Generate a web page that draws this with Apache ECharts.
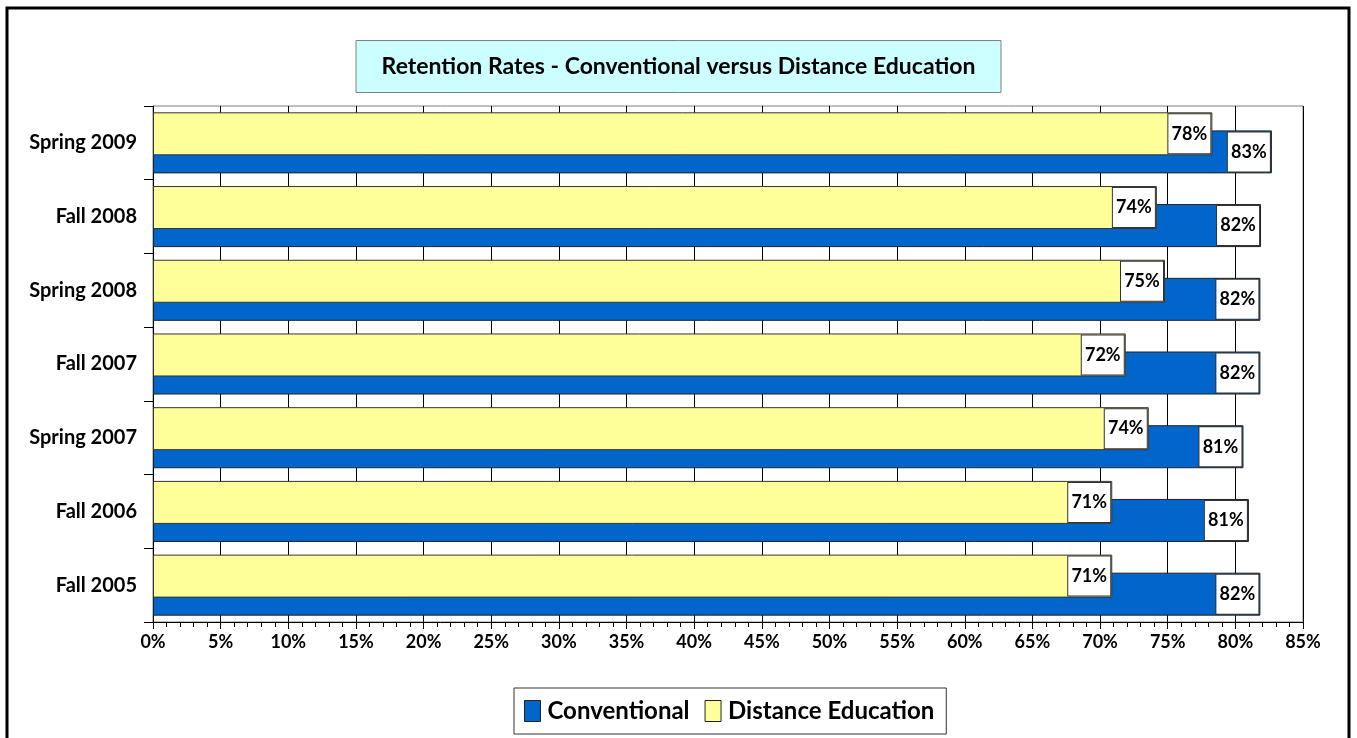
<!DOCTYPE html>
<html>
<head>
<meta charset="utf-8">
<script src="https://cdn.jsdelivr.net/npm/echarts@6/dist/echarts.min.js"></script>
<style>
  html, body { margin: 0; padding: 0; background: #fff; }
  #chart { width: 1357px; height: 738px; }
</style>
</head>
<body>
<div id="chart"></div>
<script>
// categories bottom -> top
const terms = ['Fall 2005', 'Fall 2006', 'Spring 2007', 'Fall 2007', 'Spring 2008', 'Fall 2008', 'Spring 2009'];
const conventional = [81.85, 81.0, 80.6, 81.85, 81.85, 81.9, 82.7];
const distance = [70.9, 70.9, 73.6, 71.9, 74.8, 74.2, 78.3];
const xTicks = { min: 0, max: 85, step: 5 };

const font = 'Lato, "Noto Sans", sans-serif';

// white value box sitting at the inner end of each bar
const labelBox = {
  show: true,
  position: 'insideRight',
  distance: 0,
  offset: [-23, 0],
  formatter: p => Math.round(p.value) + '%',
  backgroundColor: '#fff',
  borderColor: '#333',
  borderWidth: 1,
  width: 42,
  height: 39,
  lineHeight: 39,
  align: 'center',
  color: '#000',
  fontFamily: font,
  fontWeight: 'bold',
  fontSize: 18
};

const chart = echarts.init(document.getElementById('chart'));

chart.setOption({
  animation: false,
  textStyle: { fontFamily: font },
  title: {
    text: 'Retention Rates - Conventional versus Distance Education',
    left: 'center',
    top: 40,
    padding: [15, 26],
    backgroundColor: '#ccffff',
    borderColor: '#808080',
    borderWidth: 1,
    textStyle: { fontFamily: font, fontWeight: 'bold', fontSize: 23, color: '#000' }
  },
  legend: {
    data: ['Conventional', 'Distance Education'],
    left: 514,
    top: 688,
    padding: [11, 12, 11, 10],
    itemWidth: 16,
    itemHeight: 21,
    itemGap: 15,
    borderColor: '#333',
    borderWidth: 1,
    icon: 'rect',
    textStyle: { fontFamily: font, fontWeight: 'bold', fontSize: 24, color: '#000', padding: [0, 0, 0, 2] },
    itemStyle: { borderColor: '#222', borderWidth: 1 }
  },
  graphic: [{
    type: 'rect',
    shape: { x: 7, y: 8, width: 1342, height: 760 },
    style: { fill: null, stroke: '#000', lineWidth: 3 },
    silent: true,
    z: 100
  }],
  grid: {
    left: 153,
    right: 54,
    top: 106,
    bottom: 116,
    show: true,
    borderColor: '#808080',
    borderWidth: 1
  },
  xAxis: {
    type: 'value',
    min: xTicks.min,
    max: xTicks.max,
    interval: xTicks.step,
    axisLine: { show: true, lineStyle: { color: '#000', width: 1 } },
    axisTick: { show: true, length: 7, lineStyle: { color: '#000' } },
    minorTick: { show: true, splitNumber: 5, length: 5, lineStyle: { color: '#000' } },
    splitLine: { show: true, lineStyle: { color: '#000', width: 1 } },
    axisLabel: {
      formatter: '{value}%',
      margin: 11,
      color: '#000',
      fontFamily: font,
      fontWeight: 'bold',
      fontSize: 18
    }
  },
  yAxis: {
    type: 'category',
    data: terms,
    axisLine: { show: true, lineStyle: { color: '#000', width: 1 } },
    axisTick: { show: true, length: 9, lineStyle: { color: '#000' } },
    axisLabel: {
      margin: 16,
      color: '#000',
      fontFamily: font,
      fontWeight: 'bold',
      fontSize: 20
    }
  },
  series: [
    {
      name: 'Distance Education',
      type: 'bar',
      data: distance,
      barWidth: 43,
      barGap: '-58%',
      z: 3,
      itemStyle: { color: '#ffff99', borderColor: '#333', borderWidth: 1 },
      label: labelBox
    },
    {
      name: 'Conventional',
      type: 'bar',
      data: conventional,
      barWidth: 43,
      z: 2,
      itemStyle: { color: '#0066cc', borderColor: '#222', borderWidth: 1 },
      label: labelBox
    }
  ]
});

window.onresize = () => chart.resize();
</script>
</body>
</html>
